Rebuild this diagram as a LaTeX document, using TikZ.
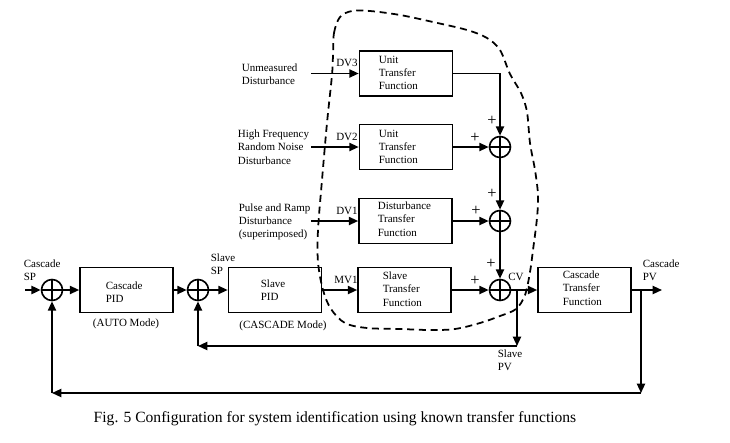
\documentclass[tikz,border=0pt]{standalone}
\usepackage{fontspec}
\setmainfont{Liberation Serif}
\usetikzlibrary{arrows.meta}
\begin{document}
\begin{tikzpicture}[x=0.03cm,y=-0.03cm,
  line width=1.4pt,
  >={Triangle[length=8pt,width=7pt]},
  blk/.style={draw, line width=1.4pt, inner sep=0pt, minimum width=2.79cm, minimum height=1.35cm},
  sumj/.style={draw, circle, line width=1.4pt, minimum size=0.63cm, inner sep=0pt,
    path picture={\draw[line width=1.4pt] (path picture bounding box.north) -- (path picture bounding box.south)
      (path picture bounding box.west) -- (path picture bounding box.east);}},
  txt/.style={font=\fontsize{9.4}{11.3}\selectfont, align=left, inner sep=0pt, anchor=west},
  lbl/.style={font=\fontsize{9.4}{11.3}\selectfont, inner sep=0pt},
  pl/.style={font=\fontsize{14}{14}\selectfont, inner sep=0pt},
]
\useasboundingbox (0,0) rectangle (730,442);

% boxes
\node[blk] (b3) at (406,73.5) {};
\node[blk] (b2) at (406,147) {};
\node[blk] (b1) at (405.5,221) {};
\node[blk] (bst) at (404.5,290) {};
\node[blk] (bspid) at (275,290) {};
\node[blk] (bcpid) at (126.5,290) {};
\node[blk] (bctf) at (584.5,290) {};

% box texts
\node[txt] (t3) at (378,73) {Unit\\Transfer\\Function};
\node[txt] (t2) at (378,147) {Unit\\Transfer\\Function};
\node[txt] (t1) at (377,219) {Disturbance\\Transfer\\Function};
\node[txt] (tst) at (382,289) {Slave\\Transfer\\Function};
\node[txt] (tctf) at (562,288) {Cascade\\Transfer\\Function};
\node[txt] (tcpid) at (105,292) {Cascade\\PID};
\node[txt] (tspid) at (260,290.5) {Slave\\PID};

% summing junctions
\node[sumj] (sA) at (500,147) {};
\node[sumj] (sB) at (500,221) {};
\node[sumj] (sC) at (500,290) {};
\node[sumj] (s1) at (52,290) {};
\node[sumj] (s2) at (198,290) {};

% dashed boundary
\draw[line width=1.5pt, dash pattern=on 6pt off 4pt] plot[smooth cycle, tension=0.55] coordinates {
 (333,55) (334,33) (340,17) (352,11) (370,11) (400,15) (433,22) (467,30) (487,38) (500,50) (510,74)
 (521,93) (527,112) (530,143) (535,170) (538,195) (537,218) (533,250) (530,272) (525,295) (516,309)
 (500,316) (480,323) (455,329) (430,330) (400,329) (367,328) (345,323) (331,309) (323,290) (318,262)
 (318,230) (322,180) (327,123) (332,75)};

% left labels
\node[txt] (l3) at (241,74) {Unmeasured\\Disturbance};
\node[txt] (l2) at (237,147) {High Frequency\\Random Noise\\Disturbance};
\node[txt] (l1) at (238,222) {Pulse and Ramp\\Disturbance\\(superimposed)};

% disturbance inputs
\coordinate (i3) at (311,73.5);
\coordinate (i2) at (311,147);
\coordinate (i1) at (311,221);
\draw[->] (i3) -- (b3.west);
\draw[->] (i2) -- (b2.west);
\draw[->] (i1) -- (b1.west);
\node[lbl] (dv3) at (347,63) {DV3};
\node[lbl] (dv2) at (347,137) {DV2};
\node[lbl] (dv1) at (347,211) {DV1};

% summation chain
\draw[->] (b3.east) -| (sA.north);
\draw[->] (b2.east) -- (sA.west);
\draw[->] (sA.south) -- (sB.north);
\draw[->] (b1.east) -- (sB.west);
\draw[->] (sB.south) -- (sC.north);
\draw[->] (bst.east) -- (sC.west);
\node[pl] (pA1) at (492,121) {+};
\node[pl] (pA2) at (475,138) {+};
\node[pl] (pB1) at (492,194) {+};
\node[pl] (pB2) at (476,211) {+};
\node[pl] (pC1) at (491,264) {+};
\node[pl] (pC2) at (475,281) {+};

% main path
\coordinate (sp) at (25,290);
\draw[->, line width=1.8pt] (sp) -- (s1.west);
\draw[->] (s1.east) -- (bcpid.west);
\draw[->] (bcpid.east) -- (s2.west);
\draw[->] (s2.east) -- (bspid.west);
\draw[->] (bspid.east) -- (bst.west);
\draw[->] (sC.east) -- (bctf.west);
\node[lbl] (mv1) at (346,280) {MV1};
\node[lbl] (cv) at (516,277) {CV};
\node[txt] (csp) at (23,270.5) {Cascade\\SP};
\node[txt] (ssp) at (210,264) {Slave\\SP};
\node[lbl] (auto) at (126,324) {(AUTO Mode)};
\node[lbl] (casc) at (283,326) {(CASCADE Mode)};

% slave PV feedback
\coordinate (cvb) at (517,290);
\coordinate (spv) at (517,346);
\coordinate (spvl) at (198,346);
\draw[->] (cvb) -- (spv);
\draw[->] (spv) -- (spvl);
\draw[->] (spvl) -- (s2.south);
\node[txt] (lspv) at (497,360.5) {Slave\\PV};

% cascade PV feedback
\coordinate (cpv) at (662,290);
\coordinate (cpb) at (641,290);
\coordinate (cpd) at (641,393);
\coordinate (cpl) at (52,393);
\draw[->] (bctf.east) -- (cpv);
\draw[->] (cpb) -- (cpd);
\draw[->] (cpd) -- (cpl);
\draw[->] (cpl) -- (s1.south);
\node[txt] (lcpv) at (642,270.5) {Cascade\\PV};

% caption
\node[lbl, font=\fontsize{13.3}{15}\selectfont] (cap) at (335,419) {Fig. 5 Configuration for system identification using known transfer functions};
\end{tikzpicture}
\end{document}
